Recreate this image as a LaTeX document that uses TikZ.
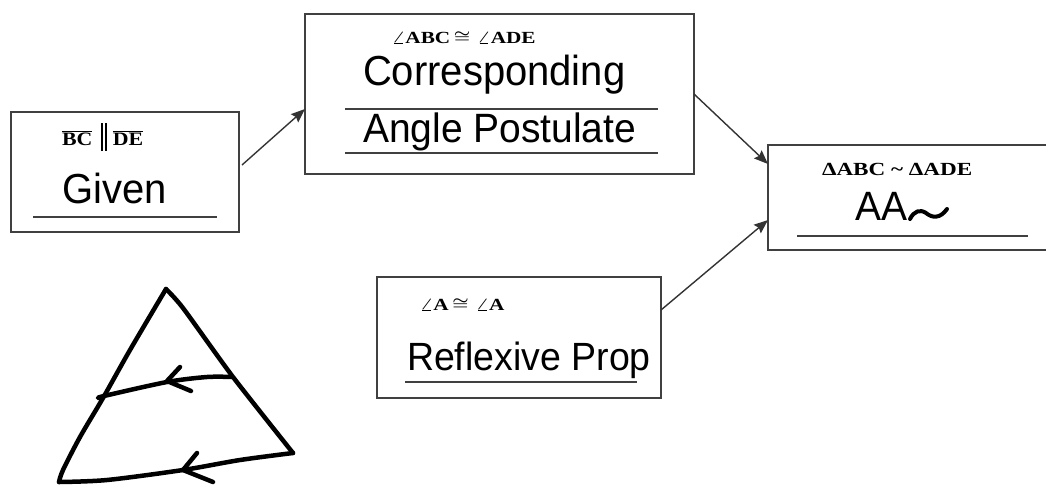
\documentclass[tikz,border=0pt]{standalone}
\usepackage{graphicx}
\usepackage{fontspec}
\setmainfont{Liberation Sans}
\newfontfamily\geofont{Liberation Serif}
\usetikzlibrary{arrows.meta}

\definecolor{boxgray}{gray}{0.25}
\definecolor{linkgray}{gray}{0.2}

% bold serif statement: #1 = font size, #2 = horizontal stretch, #3 = text
\newcommand\stmt[3]{\scalebox{#2}[1]{\fontsize{#1}{#1}\selectfont\geofont\bfseries\boldmath #3}}
% a slightly smaller congruence sign
\newcommand\cng{\raisebox{0.5pt}{\scalebox{0.85}{$\cong$}}}
% tall parallel bars
\newcommand\parbars{\rule[-6pt]{2pt}{28pt}\hspace{2pt}\rule[-6pt]{2pt}{28pt}}
% sans serif reason text, slightly taller than the plain face
\newcommand\reason[2]{\scalebox{1}[1.05]{\fontsize{#1}{#1}\selectfont #2}}

\begin{document}
\begin{tikzpicture}[x=1pt,y=-1pt,
  box/.style={draw=boxgray, line width=1.8pt, inner sep=0pt, outer sep=0pt},
  txt/.style={anchor=base west, inner sep=0pt, outer sep=0pt},
  geo/.style={anchor=base west, inner sep=0pt, outer sep=0pt},
  rule/.style={draw=boxgray, line width=1.8pt},
  link/.style={draw=linkgray, line width=1.4pt, -{Stealth[length=14pt,width=11pt,inset=2pt]}},
  ink/.style={line width=4.5pt, line cap=round, line join=round, black}]

\useasboundingbox (0,0) rectangle (1046,485);

% proof boxes
\node[box, minimum width=228pt, minimum height=120pt] (given) at (125,172) {};
\node[box, minimum width=389pt, minimum height=160pt] (corr) at (499.5,94) {};
\node[box, minimum width=280pt, minimum height=105pt] (aa) at (908,197.5) {};
\node[box, minimum width=284pt, minimum height=121pt] (refl) at (519,337.5) {};

% statements
\node[geo] (lpar) at (62,145) {\stmt{19}{1.15}{$\overline{\hbox{BC}}$}\hspace{9pt}\parbars\hspace{5.5pt}\stmt{19}{1.15}{$\overline{\hbox{DE}}$}};
\node[geo] (lcorr) at (392,43) {\stmt{17}{1.25}{$\angle$ABC\,\cng\,\,$\angle$ADE}};
\node[geo] (lsim) at (822,175) {\stmt{18.5}{1.25}{ΔABC \textasciitilde{} ΔADE}};
\node[geo] (lrefl) at (420,310) {\stmt{17}{1.25}{$\angle$A\,\cng\,\,$\angle$A}};

% reasons
\node[txt] (tgiven) at (62,203) {\reason{40}{Given}};
\node[txt] (tcorr) at (363,85) {\reason{40}{Corresponding}};
\node[txt] (tangle) at (363,142) {\reason{39}{Angle Postulate}};
\node[txt] (taa) at (855,220) {\reason{39}{AA}};
\node[txt] (trefl) at (407,370) {\reason{37.5}{Reflexive Prop}};

% answer lines
\draw[rule] (33,217) -- (217,217);
\draw[rule] (345,109) -- (658,109);
\draw[rule] (345,153) -- (658,153);
\draw[rule] (797,236) -- (1028,236);
\draw[rule] (405,382) -- (637,382);

% handwritten similarity sign
\draw[ink, line width=4pt] (910,219) .. controls (914,211) and (920,209) .. (926,213)
  .. controls (932,218) and (940,219) .. (947,209);

% flow of the proof
\draw[link] ([xshift=3pt,yshift=7pt]given.east) -- ([yshift=-15pt]corr.west);
\draw[link] (corr.east) -- ([yshift=33.5pt]aa.west);
\draw[link] ([yshift=27.5pt]refl.east) -- ([yshift=-22.5pt]aa.west);

% sketch of the triangle with the two parallel segments
\draw[ink] plot[smooth, tension=0.5] coordinates {(166,289) (130,350) (103,398) (80,437) (63,470) (59,482)};
\draw[ink] plot[smooth, tension=0.5] coordinates {(59,482) (107,480) (183,470) (240,460) (293,453)};
\draw[ink] plot[smooth, tension=0.4] coordinates {(166,289) (183,308) (233,377) (293,453)};
\draw[ink] plot[smooth, tension=0.5] coordinates {(99,398) (104,396) (167,382) (207,377) (232,377)};
\draw[ink] (180,367) -- (167,381) -- (191,391);
\draw[ink] (197,453) -- (183,470) -- (213,482);
\end{tikzpicture}
\end{document}
